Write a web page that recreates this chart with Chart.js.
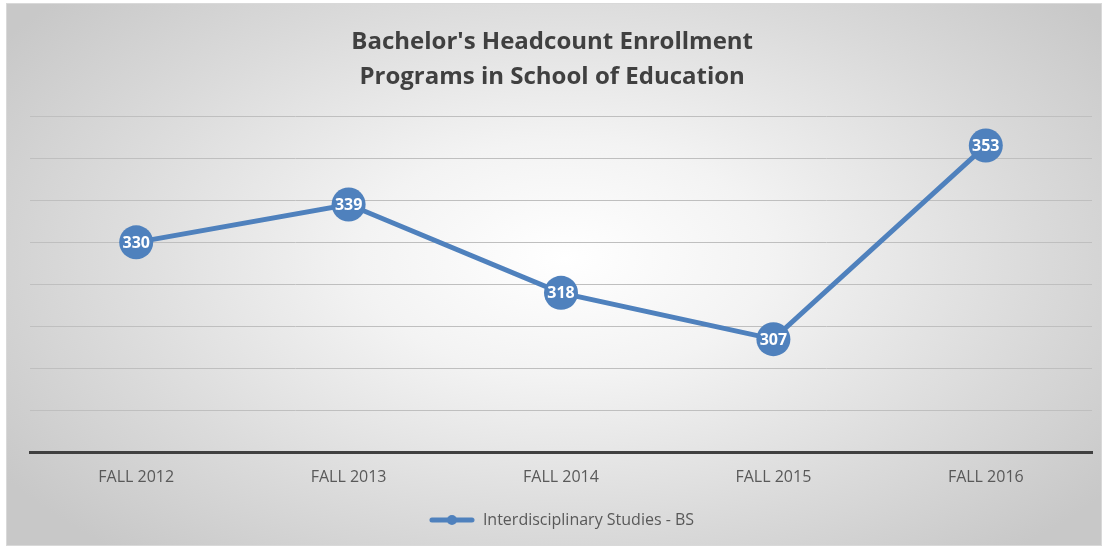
<!DOCTYPE html>
<html>
<head>
<meta charset="utf-8">
<script src="https://cdn.jsdelivr.net/npm/chart.js@4.4.1/dist/chart.umd.min.js"></script>
<style>
    body { margin: 0; background: #fff; }
    #frame {
        position: absolute; left: 6px; top: 3px; width: 1094px; height: 541px;
        border: 1px solid #d9d9d9;
        background: radial-gradient(ellipse 62% 72% at 51% 47%, #ffffff 0%, #f3f3f3 30%, #dadada 70%, #c8c8c8 100%);
    }
    canvas { position: absolute; left: 0; top: 0; }
</style>
</head>
<body>
<div id="frame"></div>
<canvas id="enrollChart" width="1109" height="548"></canvas>
<script>
const terms = ["FALL 2012", "FALL 2013", "FALL 2014", "FALL 2015", "FALL 2016"];
const headcount = [330, 339, 318, 307, 353];
const seriesName = "Interdisciplinary Studies - BS";
// espacios finales para correr el titulo un poco a la izquierda
const chartTitle = ["Bachelor's Headcount Enrollment   ", "Programs in School of Education   "];

const BLUE = "#4f81bd";
const FONT = "'Open Sans', 'Liberation Sans', sans-serif";

/* icono de leyenda: linea con punto */
const legendIcon = document.createElement("canvas");
legendIcon.width = 46;
legendIcon.height = 12;
const ic = legendIcon.getContext("2d");
ic.strokeStyle = BLUE;
ic.lineWidth = 5;
ic.lineCap = "round";
ic.beginPath();
ic.moveTo(3, 6);
ic.lineTo(43, 6);
ic.stroke();
ic.fillStyle = BLUE;
ic.beginPath();
ic.arc(23, 6, 5, 0, Math.PI * 2);
ic.fill();

const valueLabels = {
    id: "valueLabels",
    afterDatasetsDraw(chart) {
        const c = chart.ctx;
        const meta = chart.getDatasetMeta(0);
        c.save();
        c.fillStyle = "#ffffff";
        c.font = "bold 16px " + FONT;
        c.textAlign = "center";
        c.textBaseline = "middle";
        meta.data.forEach((pt, i) => {
            c.fillText(String(headcount[i]), pt.x, pt.y + 1);
        });
        c.restore();
    }
};

new Chart(document.getElementById("enrollChart"), {
    type: "line",
    data: {
        labels: terms,
        datasets: [{
            label: seriesName,
            data: headcount,
            borderColor: BLUE,
            backgroundColor: BLUE,
            borderWidth: 5,
            pointRadius: 17,
            pointHoverRadius: 17,
            pointBorderWidth: 0,
            pointStyle: "circle",
            tension: 0
        }]
    },
    options: {
        responsive: false,
        animation: false,
        layout: { padding: { left: 30, right: 16, top: 25, bottom: 10 } },
        plugins: {
            title: {
                display: true,
                text: chartTitle,
                color: "#404040",
                font: { family: FONT, size: 24, weight: "bold", lineHeight: 1.46 },
                padding: { top: 0, bottom: 21 }
            },
            legend: {
                position: "bottom",
                labels: {
                    usePointStyle: true,
                    pointStyleWidth: 46,
                    color: "#595959",
                    font: { family: FONT, size: 16 },
                    padding: 10,
                    generateLabels: () => [{
                        text: seriesName,
                        pointStyle: legendIcon,
                        fillStyle: BLUE,
                        strokeStyle: BLUE,
                        fontColor: "#595959",
                        lineWidth: 0,
                        datasetIndex: 0
                    }]
                }
            },
            tooltip: { enabled: false }
        },
        scales: {
            x: {
                offset: true,
                grid: { display: false, drawTicks: false },
                border: { display: true, color: "#404040", width: 3 },
                ticks: { color: "#595959", font: { family: FONT, size: 16 }, padding: 15 }
            },
            y: {
                min: 280,
                max: 360,
                ticks: { display: false, stepSize: 10 },
                grid: { color: "#bfbfbf", lineWidth: 1, drawTicks: false },
                border: { display: false }
            }
        }
    },
    plugins: [valueLabels]
});
</script>
</body>
</html>
